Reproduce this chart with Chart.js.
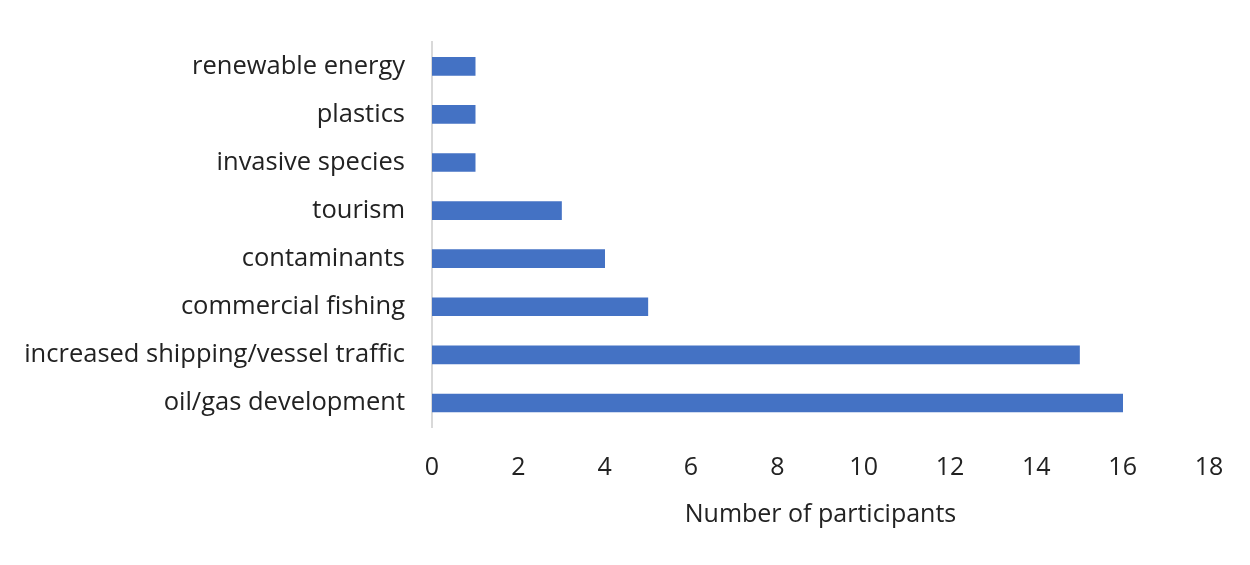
<!DOCTYPE html>
<html>
<head>
<meta charset="utf-8">
<script src="https://cdn.jsdelivr.net/npm/chart.js@4.4.1/dist/chart.umd.min.js"></script>
<style>
  html, body { margin: 0; padding: 0; background: #ffffff; }
  #wrap { width: 1250px; height: 565px; position: relative; }
</style>
</head>
<body>
<div id="wrap"><canvas id="c" width="1250" height="565"></canvas></div>
<script>
// Concerns raised by participants, listed top to bottom
const categories = [
  'renewable energy',
  'plastics',
  'invasive species',
  'tourism',
  'contaminants',
  'commercial fishing',
  'increased shipping/vessel traffic',
  'oil/gas development'
];
const participants = [1, 1, 1, 3, 4, 5, 15, 16];
const axisMin = 0;
const axisMax = 18;
const axisStep = 2;
const axisTitle = 'Number of participants';

const FONT = '"Open Sans", sans-serif';
const TEXT = '#222222';

new Chart(document.getElementById('c'), {
  type: 'bar',
  data: {
    labels: categories,
    datasets: [{
      data: participants,
      backgroundColor: '#4472C4',
      borderWidth: 0,
      barThickness: 18
    }]
  },
  options: {
    indexAxis: 'y',
    responsive: false,
    animation: false,
    layout: { padding: { top: 42, right: 41, bottom: 0, left: 0 } },
    plugins: { legend: { display: false }, tooltip: { enabled: false } },
    scales: {
      x: {
        min: axisMin,
        max: axisMax,
        ticks: {
          stepSize: axisStep,
          padding: 26,
          color: TEXT,
          font: { family: FONT, size: 25 }
        },
        grid: { display: false, drawTicks: false },
        border: { display: false },
        title: {
          display: true,
          text: axisTitle,
          color: TEXT,
          font: { family: FONT, size: 25 },
          padding: { top: 0, bottom: 35 }
        },
        afterFit(scale) { scale.height = 138; }
      },
      y: {
        ticks: {
          padding: 27,
          color: TEXT,
          font: { family: FONT, size: 25.5 }
        },
        grid: { display: false, drawTicks: false },
        border: { display: true, color: '#d9d9d9', width: 2 },
        afterFit(scale) { scale.width = 432; }
      }
    }
  }
});
</script>
</body>
</html>
